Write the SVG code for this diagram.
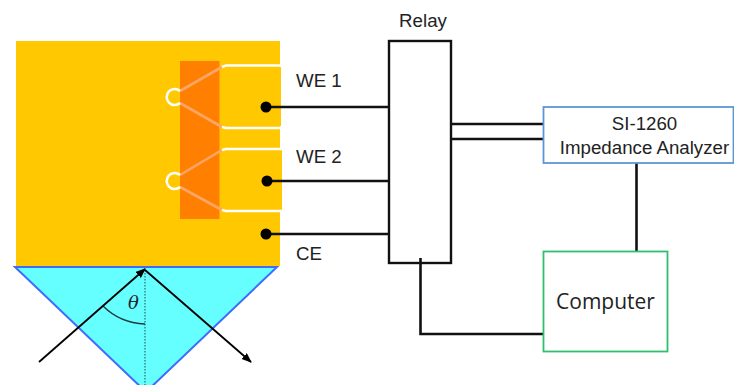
<svg xmlns="http://www.w3.org/2000/svg" width="734" height="385" viewBox="0 0 734 385">
<defs>
<marker id="ah" markerUnits="userSpaceOnUse" markerWidth="12" markerHeight="10" refX="9" refY="4" orient="auto"><path d="M0 0L10 4L0 8Z" fill="#000"/></marker>
</defs>
<style>
.w{fill:none;stroke:#111;stroke-width:2.600}
.t{font-family:"Liberation Sans",Arial,sans-serif;font-size:18.700px;fill:#222}
.pad{fill:none;stroke:#fff;stroke-width:2.600}
.d{fill:none;stroke:#ffa566;stroke-width:2.600}
</style>
<rect width="734" height="385" fill="#fff"/>
<g id="electrode">
<rect x="16" y="41" width="264" height="225" fill="#ffc800"/>
<rect x="280" y="67" width="1" height="59" fill="#ffc800"/>
<rect x="280" y="150" width="2" height="60" fill="#ffc800"/>
<rect x="180" y="61" width="39.500" height="158" fill="#ff8000"/>
<path class="d" d="M180 91L222 67M180 103L222 127M180 175L222 150M180 187L222 210"/>
<path class="pad" d="M222 67L226 65.500H281M222 127L226 128H281M222 150L226 149H282M222 210L226 211H282"/>
<path class="pad" d="M180 91A8 8 0 1 0 180 103M180 175A8 8 0 1 0 180 187"/>
</g>
<g id="prism">
<path d="M15 267H277L146 392Z" fill="#66ffff" stroke="#3f6cff" stroke-width="2"/>
<path d="M145 270V385" fill="none" stroke="#2a6a70" stroke-width="1.200" stroke-dasharray="1.500 1.500"/>
<path d="M103 306Q120 323 145 324" fill="none" stroke="#1e3a40" stroke-width="1.300"/>
<text x="133.500" y="309" font-family="'DejaVu Serif','Liberation Serif',serif" font-style="italic" font-size="18" fill="#223" text-anchor="middle">θ</text>
</g>
<g id="connectors">
<path class="w" d="M266 107H389M267 181H389M266 234H389"/>
<path class="w" d="M451 124H543M451 139H543"/>
<path class="w" d="M636.500 163V251"/>
<path class="w" d="M420.500 258V334H543"/>
<path d="M39 362L145 269" fill="none" stroke="#000" stroke-width="1.800" marker-end="url(#ah)"/>
<path d="M145 270L251 362" fill="none" stroke="#000" stroke-width="1.800" marker-end="url(#ah)"/>
<circle cx="266" cy="107" r="5.500"/><circle cx="267" cy="181" r="5.500"/><circle cx="266" cy="234" r="5.500"/>
</g>
<g id="relay">
<rect x="389" y="41" width="62" height="222" fill="none" stroke="#111" stroke-width="2.400"/>
<text class="t" x="423" y="27" text-anchor="middle">Relay</text>
</g>
<g id="labels">
<text class="t" x="296" y="87">WE 1</text>
<text class="t" x="296" y="163">WE 2</text>
<text class="t" x="296" y="260">CE</text>
</g>
<g id="analyzer">
<rect x="543.500" y="107" width="190" height="56" fill="#fff" stroke="#5b96d8" stroke-width="1.800"/>
<text class="t" x="644.500" y="130" text-anchor="middle">SI-1260</text>
<text class="t" x="644.500" y="154" text-anchor="middle">Impedance Analyzer</text>
</g>
<g id="computer">
<rect x="543.500" y="251.500" width="124" height="100" fill="#fff" stroke="#2fbf6f" stroke-width="1.800"/>
<text x="605.500" y="309" text-anchor="middle" font-family="'Open Sans','Noto Sans',sans-serif" font-size="21" fill="#222">Computer</text>
</g>
</svg>
